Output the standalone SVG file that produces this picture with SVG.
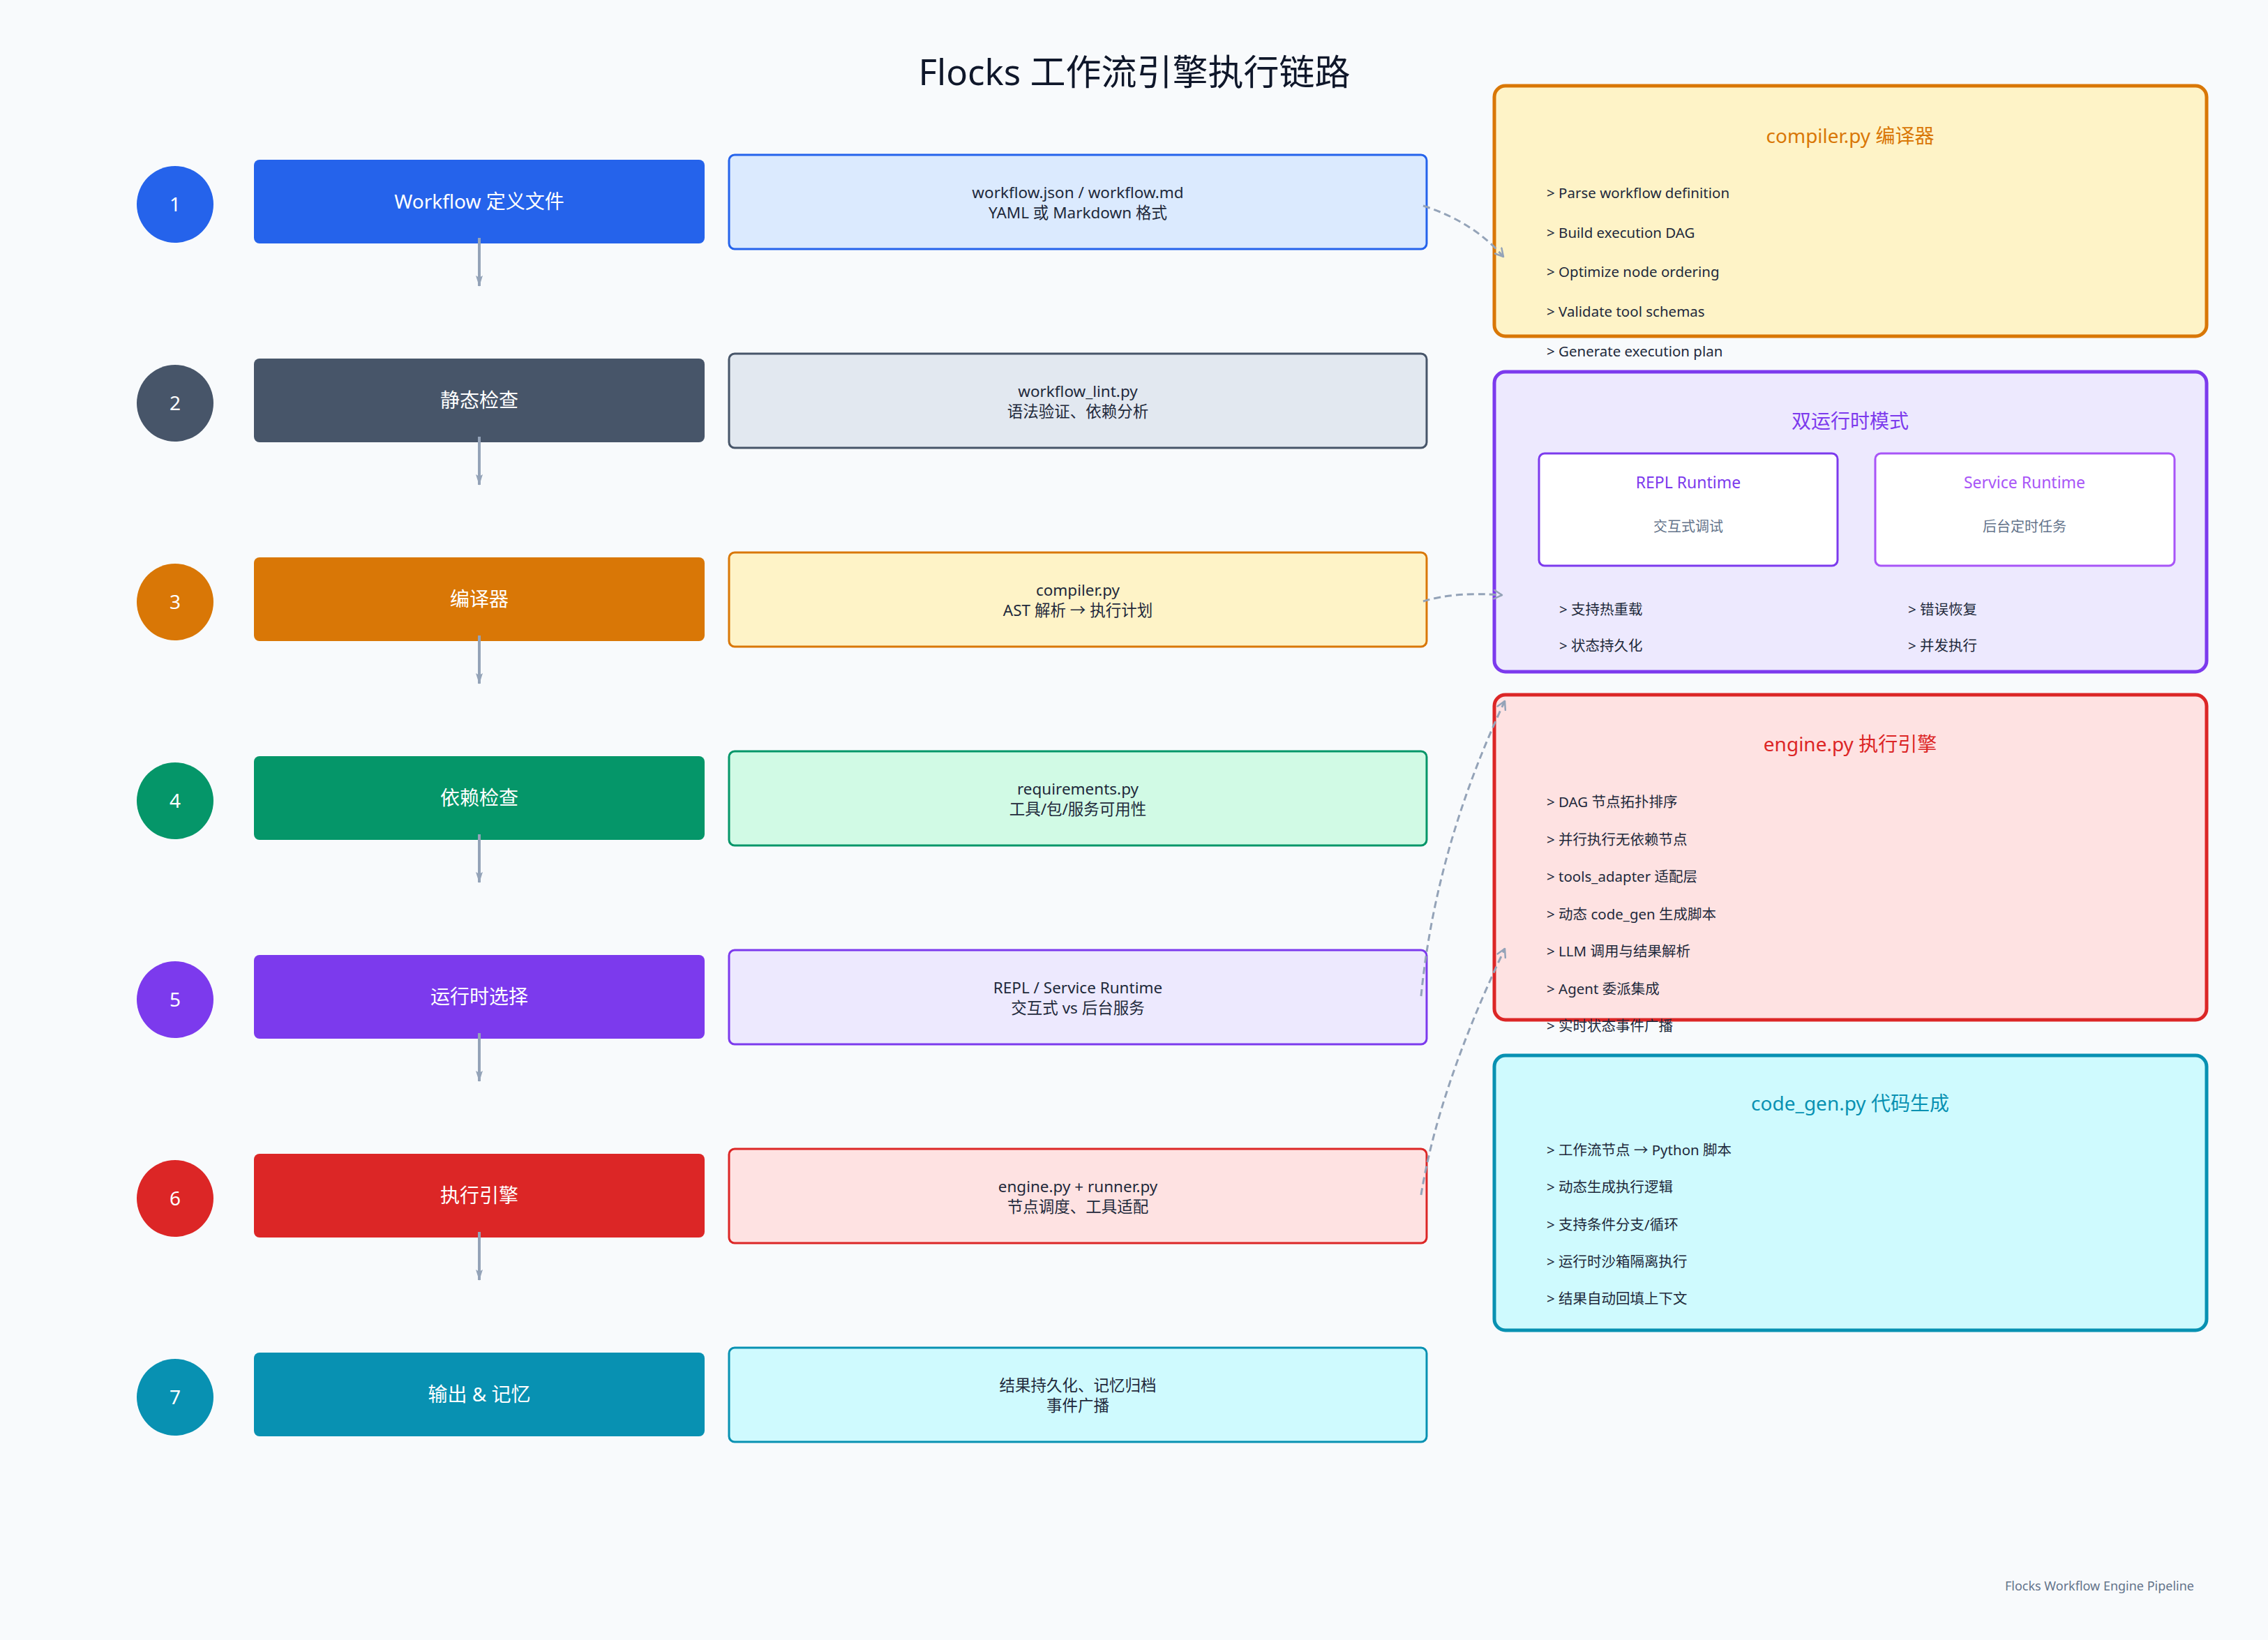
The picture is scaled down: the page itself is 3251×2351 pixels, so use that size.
<svg xmlns="http://www.w3.org/2000/svg" width="3251" height="2351" viewBox="0 0 3251 2351">
<style>
text{font-family:"Noto Sans","Noto Sans CJK SC",sans-serif}
.title{font-size:51px;fill:#0f172a;text-anchor:middle}
.num{font-size:28px;fill:#ffffff;text-anchor:middle}
.step{font-size:28px;fill:#ffffff;text-anchor:middle}
.det{font-size:22.5px;fill:#1e293b;text-anchor:middle}
.ptitle{font-size:28px;text-anchor:middle}
.item{font-size:20.5px;fill:#1e293b}
.sub{font-size:23px;text-anchor:middle}
.subd{font-size:20px;fill:#64748b;text-anchor:middle}
.foot{font-size:18px;fill:#64748b;text-anchor:end}
.flow{stroke:#94a3b8;stroke-width:4;fill:none}
.dash{stroke:#94a3b8;stroke-width:3;fill:none;stroke-dasharray:10 6}
.panel{stroke-width:5}
.dbox{stroke-width:3}
</style>
<defs>
<marker id="tri" viewBox="0 0 16 12" refX="15" refY="6" markerWidth="16" markerHeight="12" orient="auto" markerUnits="userSpaceOnUse">
<path d="M0,1 L16,6 L0,11 L3,6 z" fill="#94a3b8"/>
</marker>
<marker id="open" viewBox="0 0 12 12" refX="10" refY="6" markerWidth="5" markerHeight="5" orient="auto" markerUnits="strokeWidth">
<path d="M1,1 L10,6 L1,11" fill="none" stroke="#94a3b8" stroke-width="2" stroke-linecap="round" stroke-linejoin="round"/>
</marker>
</defs>
<rect x="0" y="0" width="3251" height="2351" fill="#f8fafc"/>
<text class="title" x="1626" y="122">Flocks 工作流引擎执行链路</text>

<g id="step1">
<circle cx="251" cy="293" r="55" fill="#2563eb"/><text class="num" x="251" y="303">1</text>
<rect x="364" y="229" width="646" height="120" rx="8" fill="#2563eb"/><text class="step" x="687" y="299">Workflow 定义文件</text>
</g>
<g id="detail1"><rect class="dbox" x="1045" y="222" width="1000" height="135" rx="8" fill="#dbeafe" stroke="#2563eb"/>
<text class="det" x="1545" y="284">workflow.json / workflow.md</text><text class="det" x="1545" y="313">YAML 或 Markdown 格式</text></g>

<g id="step2">
<circle cx="251" cy="578" r="55" fill="#475569"/><text class="num" x="251" y="588">2</text>
<rect x="364" y="514" width="646" height="120" rx="8" fill="#475569"/><text class="step" x="687" y="584">静态检查</text>
</g>
<g id="detail2"><rect class="dbox" x="1045" y="507" width="1000" height="135" rx="8" fill="#e2e8f0" stroke="#475569"/>
<text class="det" x="1545" y="569">workflow_lint.py</text><text class="det" x="1545" y="598">语法验证、依赖分析</text></g>

<g id="step3">
<circle cx="251" cy="863" r="55" fill="#d97706"/><text class="num" x="251" y="873">3</text>
<rect x="364" y="799" width="646" height="120" rx="8" fill="#d97706"/><text class="step" x="687" y="869">编译器</text>
</g>
<g id="detail3"><rect class="dbox" x="1045" y="792" width="1000" height="135" rx="8" fill="#fef3c7" stroke="#d97706"/>
<text class="det" x="1545" y="854">compiler.py</text><text class="det" x="1545" y="883">AST 解析 → 执行计划</text></g>

<g id="step4">
<circle cx="251" cy="1148" r="55" fill="#059669"/><text class="num" x="251" y="1158">4</text>
<rect x="364" y="1084" width="646" height="120" rx="8" fill="#059669"/><text class="step" x="687" y="1154">依赖检查</text>
</g>
<g id="detail4"><rect class="dbox" x="1045" y="1077" width="1000" height="135" rx="8" fill="#d1fae5" stroke="#059669"/>
<text class="det" x="1545" y="1139">requirements.py</text><text class="det" x="1545" y="1168">工具/包/服务可用性</text></g>

<g id="step5">
<circle cx="251" cy="1433" r="55" fill="#7c3aed"/><text class="num" x="251" y="1443">5</text>
<rect x="364" y="1369" width="646" height="120" rx="8" fill="#7c3aed"/><text class="step" x="687" y="1439">运行时选择</text>
</g>
<g id="detail5"><rect class="dbox" x="1045" y="1362" width="1000" height="135" rx="8" fill="#ede9fe" stroke="#7c3aed"/>
<text class="det" x="1545" y="1424">REPL / Service Runtime</text><text class="det" x="1545" y="1453">交互式 vs 后台服务</text></g>

<g id="step6">
<circle cx="251" cy="1718" r="55" fill="#dc2626"/><text class="num" x="251" y="1728">6</text>
<rect x="364" y="1654" width="646" height="120" rx="8" fill="#dc2626"/><text class="step" x="687" y="1724">执行引擎</text>
</g>
<g id="detail6"><rect class="dbox" x="1045" y="1647" width="1000" height="135" rx="8" fill="#fee2e2" stroke="#dc2626"/>
<text class="det" x="1545" y="1709">engine.py + runner.py</text><text class="det" x="1545" y="1738">节点调度、工具适配</text></g>

<g id="step7">
<circle cx="251" cy="2003" r="55" fill="#0891b2"/><text class="num" x="251" y="2013">7</text>
<rect x="364" y="1939" width="646" height="120" rx="8" fill="#0891b2"/><text class="step" x="687" y="2009">输出 &amp; 记忆</text>
</g>
<g id="detail7"><rect class="dbox" x="1045" y="1932" width="1000" height="135" rx="8" fill="#cffafe" stroke="#0891b2"/>
<text class="det" x="1545" y="1994">结果持久化、记忆归档</text><text class="det" x="1545" y="2023">事件广播</text></g>

<g id="compiler-panel">
<rect class="panel" x="2142" y="123" width="1021" height="359" rx="16" fill="#fef3c7" stroke="#d97706"/>
<text class="ptitle" x="2652" y="205" fill="#d97706">compiler.py 编译器</text>
<text class="item" x="2217" y="284">&gt; Parse workflow definition</text>
<text class="item" x="2217" y="341">&gt; Build execution DAG</text>
<text class="item" x="2217" y="397">&gt; Optimize node ordering</text>
<text class="item" x="2217" y="454">&gt; Validate tool schemas</text>
<text class="item" x="2217" y="511">&gt; Generate execution plan</text>
</g>

<g id="runtime-panel">
<rect class="panel" x="2142" y="533" width="1021" height="430" rx="16" fill="#ede9fe" stroke="#7c3aed"/>
<text class="ptitle" x="2652" y="614" fill="#7c3aed">双运行时模式</text>
<g id="repl-runtime">
<rect x="2206" y="650" width="428" height="161" rx="8" fill="#ffffff" stroke="#7c3aed" stroke-width="3"/>
<text class="sub" x="2420" y="700" fill="#7c3aed">REPL Runtime</text>
<text class="subd" x="2420" y="762">交互式调试</text>
</g>
<g id="service-runtime">
<rect x="2688" y="650" width="429" height="161" rx="8" fill="#ffffff" stroke="#a855f7" stroke-width="3"/>
<text class="sub" x="2902" y="700" fill="#a855f7">Service Runtime</text>
<text class="subd" x="2902" y="762">后台定时任务</text>
</g>
<text class="item" x="2235" y="881">&gt; 支持热重载</text>
<text class="item" x="2235" y="933">&gt; 状态持久化</text>
<text class="item" x="2735" y="881">&gt; 错误恢复</text>
<text class="item" x="2735" y="933">&gt; 并发执行</text>
</g>

<g id="engine-panel">
<rect class="panel" x="2142" y="996" width="1021" height="466" rx="16" fill="#fee2e2" stroke="#dc2626"/>
<text class="ptitle" x="2652" y="1077" fill="#dc2626">engine.py 执行引擎</text>
<text class="item" x="2217" y="1157">&gt; DAG 节点拓扑排序</text>
<text class="item" x="2217" y="1211">&gt; 并行执行无依赖节点</text>
<text class="item" x="2217" y="1264">&gt; tools_adapter 适配层</text>
<text class="item" x="2217" y="1318">&gt; 动态 code_gen 生成脚本</text>
<text class="item" x="2217" y="1371">&gt; LLM 调用与结果解析</text>
<text class="item" x="2217" y="1425">&gt; Agent 委派集成</text>
<text class="item" x="2217" y="1478">&gt; 实时状态事件广播</text>
</g>

<g id="codegen-panel">
<rect class="panel" x="2142" y="1513" width="1021" height="394" rx="16" fill="#cffafe" stroke="#0891b2"/>
<text class="ptitle" x="2652" y="1592" fill="#0891b2">code_gen.py 代码生成</text>
<text class="item" x="2217" y="1656">&gt; 工作流节点 → Python 脚本</text>
<text class="item" x="2217" y="1709">&gt; 动态生成执行逻辑</text>
<text class="item" x="2217" y="1763">&gt; 支持条件分支/循环</text>
<text class="item" x="2217" y="1816">&gt; 运行时沙箱隔离执行</text>
<text class="item" x="2217" y="1869">&gt; 结果自动回填上下文</text>
</g>

<g id="connectors">
<line class="flow" x1="687" y1="341" x2="687" y2="410" marker-end="url(#tri)"/>
<line class="flow" x1="687" y1="626" x2="687" y2="695" marker-end="url(#tri)"/>
<line class="flow" x1="687" y1="911" x2="687" y2="980" marker-end="url(#tri)"/>
<line class="flow" x1="687" y1="1196" x2="687" y2="1265" marker-end="url(#tri)"/>
<line class="flow" x1="687" y1="1481" x2="687" y2="1550" marker-end="url(#tri)"/>
<line class="flow" x1="687" y1="1766" x2="687" y2="1835" marker-end="url(#tri)"/>
<path class="dash" d="M2040,295 Q2112,318 2155,368" marker-end="url(#open)"/>
<path class="dash" d="M2040,862 Q2085,848 2153,853" marker-end="url(#open)"/>
<path class="dash" d="M2037,1428 Q2058,1215 2157,1005" marker-end="url(#open)"/>
<path class="dash" d="M2037,1713 Q2062,1560 2157,1360" marker-end="url(#open)"/>
</g>

<text class="foot" x="3145" y="2280">Flocks Workflow Engine Pipeline</text>
</svg>
